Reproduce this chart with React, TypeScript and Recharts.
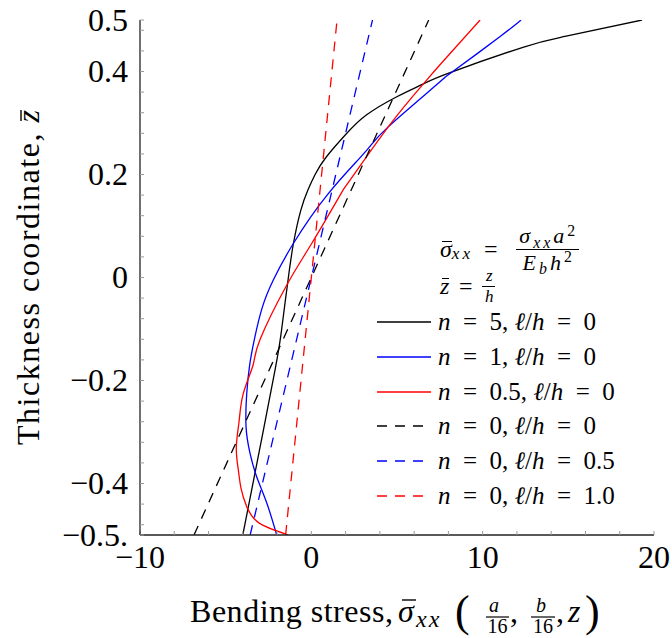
import React from "react";
import { Line, LineChart, XAxis, YAxis } from "recharts";

const FONT = '"Liberation Serif", "DejaVu Serif", serif';

// bending stress (x) across the thickness (z)
const N5_L0 = [
  { z: -0.5, x: -4.0 }, { z: -0.38, x: -3.29 }, { z: -0.18, x: -2.12 }, { z: -0.1, x: -1.73 },
  { z: 0, x: -1.34 }, { z: 0.067, x: -1.04 }, { z: 0.13, x: -0.62 }, { z: 0.17, x: -0.2 },
  { z: 0.2, x: 0.22 }, { z: 0.233, x: 0.85 }, { z: 0.28, x: 2.07 }, { z: 0.316, x: 3.23 },
  { z: 0.351, x: 4.99 }, { z: 0.376, x: 6.54 }, { z: 0.398, x: 8.1 }, { z: 0.447, x: 12.35 },
  { z: 0.468, x: 14.8 }, { z: 0.5, x: 19.3 },
];
const N1_L0 = [
  { z: -0.5, x: -2.02 }, { z: -0.438, x: -2.6 }, { z: -0.387, x: -3.19 }, { z: -0.341, x: -3.58 },
  { z: -0.29, x: -3.81 }, { z: -0.225, x: -3.77 }, { z: -0.17, x: -3.6 }, { z: -0.121, x: -3.33 },
  { z: -0.06, x: -2.88 }, { z: -0.005, x: -2.22 }, { z: 0.066, x: -1.05 }, { z: 0.163, x: 0.99 },
  { z: 0.244, x: 3.15 }, { z: 0.293, x: 4.5 }, { z: 0.38, x: 7.51 }, { z: 0.396, x: 8.1 },
  { z: 0.468, x: 11.02 }, { z: 0.5, x: 12.24 },
];
const N05_L0 = [
  { z: -0.5, x: -1.34 }, { z: -0.477, x: -3.04 }, { z: -0.445, x: -3.77 }, { z: -0.41, x: -4.1 },
  { z: -0.374, x: -4.26 }, { z: -0.33, x: -4.38 }, { z: -0.28, x: -4.22 }, { z: -0.225, x: -3.97 },
  { z: -0.17, x: -3.4 }, { z: -0.121, x: -3.0 }, { z: -0.015, x: -1.44 }, { z: 0.066, x: 0.02 },
  { z: 0.16, x: 1.68 }, { z: 0.189, x: 2.26 }, { z: 0.293, x: 4.5 }, { z: 0.376, x: 6.54 },
  { z: 0.413, x: 7.51 }, { z: 0.5, x: 9.85 },
];
const N0_L0 = [{ z: -0.5, x: -6.85 }, { z: 0, x: 0 }, { z: 0.5, x: 6.85 }];
const N0_L05 = [{ z: -0.5, x: -3.57 }, { z: 0, x: 0 }, { z: 0.5, x: 3.57 }];
const N0_L1 = [{ z: -0.5, x: -1.5 }, { z: 0, x: 0 }, { z: 0.5, x: 1.5 }];

const SERIES = [
  { key: "n5", data: N5_L0, color: "#000000", dash: undefined, n: "5", l: "0" },
  { key: "n1", data: N1_L0, color: "#0000ff", dash: undefined, n: "1", l: "0" },
  { key: "n05", data: N05_L0, color: "#ff0000", dash: undefined, n: "0.5", l: "0" },
  { key: "n0l0", data: N0_L0, color: "#000000", dash: "10 8", n: "0", l: "0" },
  { key: "n0l05", data: N0_L05, color: "#0000ff", dash: "10 8", n: "0", l: "0.5" },
  { key: "n0l1", data: N0_L1, color: "#ff0000", dash: "10 8", n: "0", l: "1.0" },
];

const X_TICKS = [-10, -8, -6, -4, -2, 0, 2, 4, 6, 8, 10, 12, 14, 16, 18, 20];
const X_LABELS = [
  { v: -10, t: "−10" }, { v: 0, t: "0" }, { v: 10, t: "10" }, { v: 20, t: "20" },
];
const Y_TICKS = [
  -0.5, -0.48, -0.44, -0.4, -0.36, -0.32, -0.28, -0.24, -0.2, -0.16, -0.12, -0.08, -0.04,
  0, 0.04, 0.08, 0.12, 0.16, 0.2, 0.24, 0.28, 0.32, 0.36, 0.4, 0.44, 0.48, 0.5,
];
const Y_LABELS = [
  { v: -0.5, t: "−0.5." }, { v: -0.4, t: "−0.4" }, { v: -0.2, t: "−0.2" }, { v: 0, t: "0" },
  { v: 0.2, t: "0.2" }, { v: 0.4, t: "0.4" }, { v: 0.5, t: "0.5" },
];

const FRAME = { stroke: "#222", strokeWidth: 1.3 };
const TICK_LINE = { stroke: "#9a9a9a", strokeWidth: 1 };

function findLabel(list: { v: number; t: string }[], value: number) {
  const hit = list.find((l) => Math.abs(l.v - value) < 1e-6);
  return hit ? hit.t : null;
}

function XTick(props: any) {
  const t = findLabel(X_LABELS, props.payload.value);
  if (!t) return <g />;
  return (
    <text x={props.x} y={props.y} dy="0.71em" textAnchor="middle" fontFamily={FONT} fontSize={32} fill="#000">
      {t}
    </text>
  );
}

function YTick(props: any) {
  const t = findLabel(Y_LABELS, props.payload.value);
  if (!t) return <g />;
  return (
    <text x={props.x} y={props.y} dy="0.34em" textAnchor="end" fontFamily={FONT} fontSize={32} fill="#000">
      {t}
    </text>
  );
}

// x axis title: Bending stress, σ̄xx (a/16, b/16, z)
function XLabel() {
  const base = 622;
  const small = 20;
  return (
    <g fontFamily={FONT} fill="#000">
      <text x={190} y={base} fontSize={32} textLength={203} lengthAdjust="spacing">Bending stress,</text>
      <text x={398} y={base} fontSize={32} fontStyle="italic">σ</text>
      <line x1={402} x2={416} y1={base - 22} y2={base - 22} stroke="#000" strokeWidth={1.4} />
      <text x={416} y={base + 5} fontSize={24} fontStyle="italic" letterSpacing={2}>xx</text>
      <text x={455} y={base + 4} fontSize={44}>(</text>
      <text x={494} y={base - 10} fontSize={small} fontStyle="italic" textAnchor="middle">a</text>
      <line x1={486} x2={509} y1={base - 5} y2={base - 5} stroke="#000" strokeWidth={1.2} />
      <text x={497.5} y={base + 11} fontSize={small} textAnchor="middle">16</text>
      <text x={510} y={base} fontSize={32}>,</text>
      <text x={541} y={base - 10} fontSize={small} fontStyle="italic" textAnchor="middle">b</text>
      <line x1={531} x2={555} y1={base - 5} y2={base - 5} stroke="#000" strokeWidth={1.2} />
      <text x={543} y={base + 11} fontSize={small} textAnchor="middle">16</text>
      <text x={556} y={base} fontSize={32}>,</text>
      <text x={568} y={base} fontSize={32} fontStyle="italic">z</text>
      <text x={585} y={base + 4} fontSize={44}>)</text>
    </g>
  );
}

// y axis title, rotated about (39, 278); runs from screen y 445 up to 110
function YLabel() {
  return (
    <g transform="rotate(-90 39 278)" fontFamily={FONT} fill="#000">
      <text x={-128} y={278} fontSize={32} textLength={335} lengthAdjust="spacing">
        Thickness coordinate, <tspan fontStyle="italic">z</tspan>
      </text>
      <line x1={196} x2={207} y1={260} y2={260} stroke="#000" strokeWidth={1.4} />
    </g>
  );
}

function Bar({ children, top }: { children: React.ReactNode; top: string }) {
  return (
    <span style={{ position: "relative", display: "inline-block" }}>
      {children}
      <span style={{ position: "absolute", left: "18%", right: "2%", top, borderTop: "1.3px solid #000" }} />
    </span>
  );
}

function Frac({ top, bottom, size, gap }: { top: React.ReactNode; bottom: React.ReactNode; size: number; gap: number }) {
  return (
    <span
      style={{
        display: "inline-flex",
        flexDirection: "column",
        alignItems: "center",
        verticalAlign: "middle",
        fontSize: size,
        lineHeight: 1.05,
        letterSpacing: gap,
      }}
    >
      <span style={{ padding: "0 1px 1px 3px" }}>{top}</span>
      <span style={{ borderTop: "1px solid #000", padding: "1px 1px 0 3px", alignSelf: "stretch", textAlign: "center" }}>
        {bottom}
      </span>
    </span>
  );
}

const Eq = ({ m }: { m: string }) => <span style={{ margin: `0 ${m}` }}>=</span>;
const sub = { fontSize: "0.72em", position: "relative" as const, top: "0.3em" };
const sup = { fontSize: "0.72em", position: "relative" as const, top: "-0.45em" };

function LegendBox() {
  return (
    <div style={{ position: "absolute", left: 377, top: 231, fontFamily: FONT, color: "#000" }}>
      <div style={{ height: 36, display: "flex", alignItems: "center", paddingLeft: 63, fontSize: 24 }}>
        <Bar top="0.22em"><i>σ</i></Bar>
        <i style={{ ...sub, letterSpacing: 3 }}>xx</i>
        <Eq m="0.45em" />
        <span style={{ marginLeft: 8 }} />
        <Frac
          size={22}
          gap={3}
          top={<><i>σ</i><i style={sub}>xx</i><i>a</i><span style={sup}>2</span></>}
          bottom={<><i>E</i><i style={sub}>b</i><i>h</i><span style={sup}>2</span></>}
        />
      </div>
      <div style={{ height: 38, display: "flex", alignItems: "center", paddingLeft: 63, fontSize: 24 }}>
        <Bar top="0.22em"><i>z</i></Bar>
        <Eq m="0.4em" />
        <Frac size={17} gap={0} top={<i>z</i>} bottom={<i>h</i>} />
      </div>
      {SERIES.map((s) => (
        <div key={s.key} style={{ height: 34.7, display: "flex", alignItems: "center" }}>
          <svg width={54} height={10}>
            <line x1={0} y1={5} x2={54} y2={5} stroke={s.color} strokeWidth={1.3} strokeDasharray={s.dash} />
          </svg>
          <span style={{ marginLeft: 7, fontSize: 25, whiteSpace: "nowrap" }}>
            <i>n</i>
            <Eq m="0.5em" />
            {s.n},&nbsp;<i>ℓ</i>/<i>h</i>
            <Eq m="0.5em" />
            {s.l}
          </span>
        </div>
      ))}
    </div>
  );
}

export default function App() {
  return (
    <div style={{ position: "absolute", left: 0, top: 0, width: 672, height: 638, background: "#fff" }}>
      <LineChart width={672} height={638} layout="vertical" margin={{ top: 20, right: 18, bottom: 0, left: 0 }}>
        <XAxis
          type="number"
          dataKey="x"
          domain={[-10, 20]}
          ticks={X_TICKS}
          interval={0}
          allowDataOverflow
          height={103}
          tickSize={-4}
          tickMargin={14}
          tickLine={TICK_LINE}
          axisLine={FRAME}
          tick={XTick}
          label={XLabel}
        />
        <XAxis
          xAxisId="top"
          orientation="top"
          type="number"
          domain={[-10, 20]}
          ticks={X_TICKS}
          interval={0}
          allowDataOverflow
          height={0}
          tickSize={-4}
          tickLine={TICK_LINE}
          axisLine={FRAME}
          tick={false}
        />
        <YAxis
          type="number"
          dataKey="z"
          domain={[-0.5, 0.5]}
          reversed
          ticks={Y_TICKS}
          interval={0}
          allowDataOverflow
          width={140}
          tickSize={-4}
          tickMargin={16}
          tickLine={TICK_LINE}
          axisLine={FRAME}
          tick={YTick}
          label={YLabel}
        />
        <YAxis
          yAxisId="right"
          orientation="right"
          type="number"
          dataKey="z"
          domain={[-0.5, 0.5]}
          reversed
          ticks={Y_TICKS}
          interval={0}
          allowDataOverflow
          width={0}
          tickSize={-4}
          tickLine={TICK_LINE}
          axisLine={FRAME}
          tick={false}
        />
        {SERIES.map((s) => (
          <Line
            key={s.key}
            data={s.data}
            dataKey="x"
            type="natural"
            stroke={s.color}
            strokeWidth={1.3}
            strokeDasharray={s.dash}
            dot={false}
            activeDot={false}
            isAnimationActive={false}
          />
        ))}
      </LineChart>
      <LegendBox />
    </div>
  );
}
